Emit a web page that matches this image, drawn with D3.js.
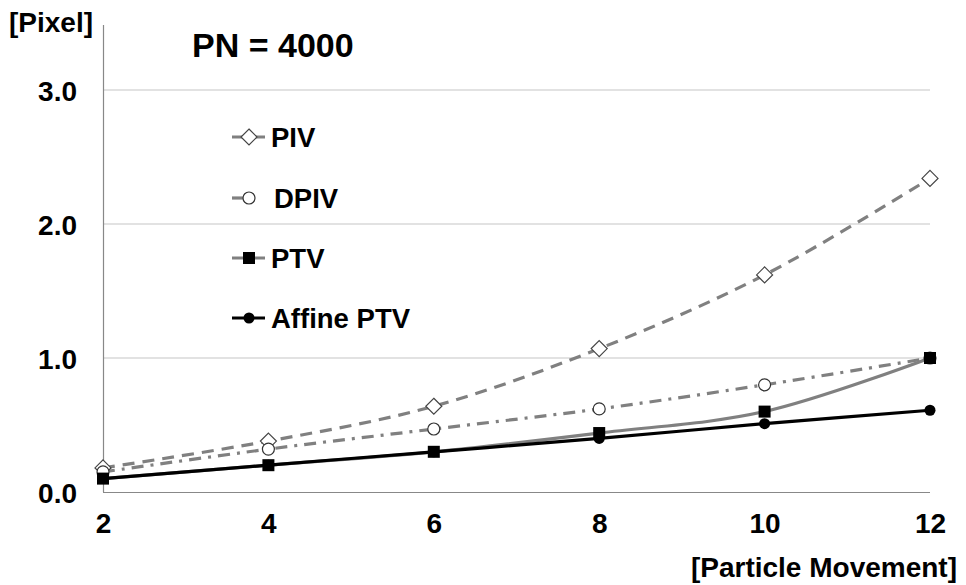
<!DOCTYPE html>
<html lang="en">
<head>
    <meta charset="UTF-8">
    <title>PN = 4000</title>
    <script src="https://d3js.org/d3.v7.min.js"></script>
    <style>
        body { margin: 0; background: white; }
        text { font-family: "Liberation Sans", Arial, sans-serif; font-weight: bold; fill: #000; }
    </style>
</head>
<body>
    <div id="chart"></div>
    <script>
        const width = 966;
        const height = 585;

        // data
        const movement = [2, 4, 6, 8, 10, 12];
        const piv = [0.18, 0.38, 0.64, 1.07, 1.62, 2.34];
        const dpiv = [0.15, 0.32, 0.47, 0.62, 0.80, 1.00];
        const ptv = [0.10, 0.20, 0.30, 0.44, 0.60, 1.00];
        const affinePtv = [0.10, 0.20, 0.30, 0.40, 0.51, 0.61];
        const yTicks = [0, 1, 2, 3];
        const seriesNames = ["PIV", "DPIV", "PTV", "Affine PTV"];

        const series = [
            { name: seriesNames[0], values: piv, color: "#808080", dash: "12,8", marker: "diamond" },
            { name: seriesNames[1], values: dpiv, color: "#808080", dash: "12,7,3,7", marker: "circleOpen" },
            { name: seriesNames[2], values: ptv, color: "#808080", dash: null, marker: "square" },
            { name: seriesNames[3], values: affinePtv, color: "#000", dash: null, marker: "circle" }
        ];

        const x = d3.scaleLinear().domain([2, 12]).range([103, 930]);
        const y = d3.scaleLinear().domain([0, 3.5]).range([492, 23]);

        const svg = d3.select("#chart").append("svg")
            .attr("width", width)
            .attr("height", height);

        // gridlines
        svg.selectAll(".grid")
            .data(yTicks.filter(d => d > 0))
            .enter().append("line")
            .attr("x1", x(2)).attr("x2", x(12))
            .attr("y1", d => y(d)).attr("y2", d => y(d))
            .attr("stroke", "#d9d9d9")
            .attr("stroke-width", 1.5);

        // axes
        const yAxis = svg.append("g")
            .attr("transform", `translate(77,0)`)
            .call(d3.axisLeft(y).tickValues(yTicks).tickFormat(d3.format(".1f")).tickSize(0).tickPadding(0));
        yAxis.select(".domain").remove();
        yAxis.selectAll("text").style("font-size", "28px").attr("dy", "0.36em");

        const xAxis = svg.append("g")
            .attr("transform", `translate(0,508)`)
            .call(d3.axisBottom(x).tickValues(movement).tickSize(0).tickPadding(0));
        xAxis.select(".domain").remove();
        xAxis.selectAll("text").style("font-size", "28px").attr("dy", "0.88em");

        svg.append("line")
            .attr("x1", 103.5).attr("x2", 103.5)
            .attr("y1", 25).attr("y2", y(0))
            .attr("stroke", "#888").attr("stroke-width", 1.2);
        svg.append("line")
            .attr("x1", 103).attr("x2", x(12))
            .attr("y1", y(0) + 0.5).attr("y2", y(0) + 0.5)
            .attr("stroke", "#888").attr("stroke-width", 1.2);

        // lines
        const line = d3.line()
            .x((d, i) => x(movement[i]))
            .y(d => y(d))
            .curve(d3.curveCatmullRom.alpha(0.5));

        series.forEach(s => {
            svg.append("path")
                .datum(s.values)
                .attr("d", line)
                .attr("fill", "none")
                .attr("stroke", s.color)
                .attr("stroke-width", 3.2)
                .attr("stroke-dasharray", s.dash);
        });

        function drawMarker(g, type, cx, cy) {
            if (type === "diamond") {
                g.append("path")
                    .attr("d", `M${cx},${cy - 8}L${cx + 8},${cy}L${cx},${cy + 8}L${cx - 8},${cy}Z`)
                    .attr("fill", "white").attr("stroke", "#444").attr("stroke-width", 1.2);
            } else if (type === "circleOpen") {
                g.append("circle").attr("cx", cx).attr("cy", cy).attr("r", 6)
                    .attr("fill", "white").attr("stroke", "#333").attr("stroke-width", 1.2);
            } else if (type === "square") {
                g.append("rect").attr("x", cx - 6).attr("y", cy - 6)
                    .attr("width", 12).attr("height", 12).attr("fill", "#000");
            } else {
                g.append("circle").attr("cx", cx).attr("cy", cy).attr("r", 5.5).attr("fill", "#000");
            }
        }

        // markers
        series.forEach(s => {
            const g = svg.append("g");
            s.values.forEach((v, i) => drawMarker(g, s.marker, x(movement[i]), y(v)));
        });

        // legend
        const legendY = [137, 198, 258, 318];
        series.forEach((s, i) => {
            const g = svg.append("g");
            const x2 = s.marker === "circleOpen" ? 250 : 265;
            g.append("line")
                .attr("x1", 232).attr("x2", x2)
                .attr("y1", legendY[i]).attr("y2", legendY[i])
                .attr("stroke", s.color).attr("stroke-width", 3.2);
            drawMarker(g, s.marker, 249, legendY[i]);
            g.append("text")
                .attr("x", s.marker === "circleOpen" ? 274 : 271)
                .attr("y", legendY[i])
                .attr("dy", "0.36em")
                .style("font-size", "27.5px")
                .text(s.name);
        });

        // titles
        svg.append("text")
            .attr("x", 192).attr("y", 45).attr("dy", "0.36em")
            .style("font-size", "34px")
            .text("PN = 4000");
        svg.append("text")
            .attr("x", 9).attr("y", 22).attr("dy", "0.36em")
            .style("font-size", "28px")
            .text("[Pixel]");
        svg.append("text")
            .attr("x", 957).attr("y", 567).attr("dy", "0.36em")
            .attr("text-anchor", "end")
            .style("font-size", "28px")
            .text("[Particle Movement]");
    </script>
</body>
</html>
